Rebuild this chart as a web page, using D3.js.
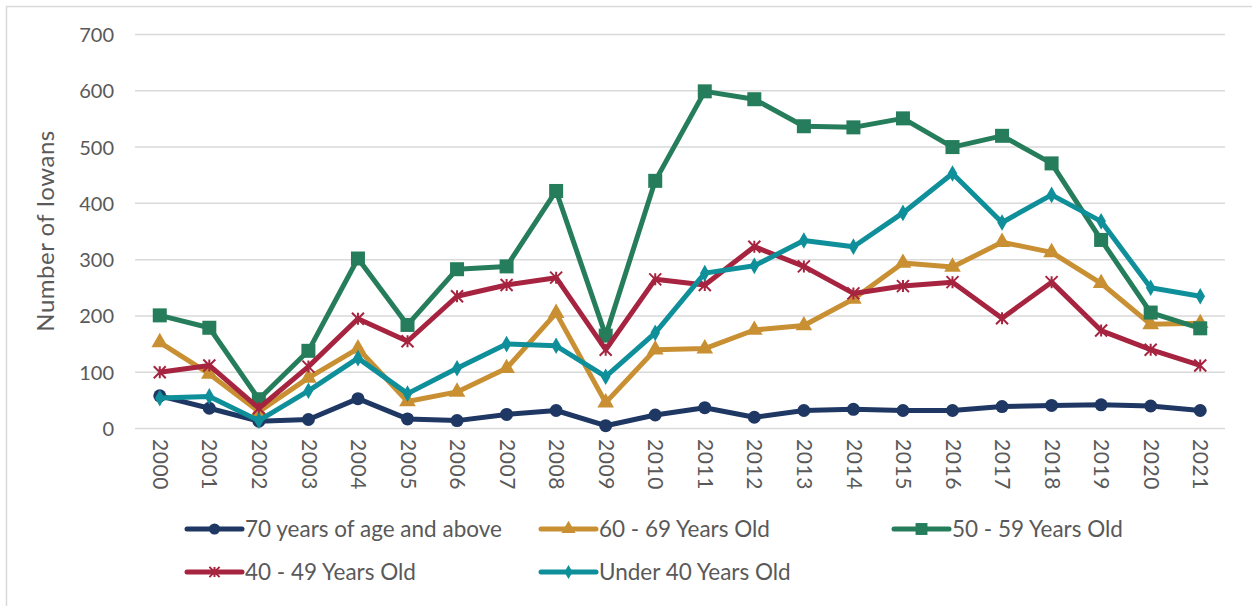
<!DOCTYPE html>
<html><head><meta charset="utf-8">
<script src="https://cdn.jsdelivr.net/npm/d3@7"></script>
<style>body{margin:0;background:#fff;font-family:"Lato","Open Sans",sans-serif;}</style>
</head><body><svg id="c" width="1252" height="606"></svg>
<script>
const years = ["2000","2001","2002","2003","2004","2005","2006","2007","2008","2009","2010","2011","2012","2013","2014","2015","2016","2017","2018","2019","2020","2021"];
const seriesNames = ["70 years of age and above","60 - 69 Years Old","50 - 59 Years Old","40 - 49 Years Old","Under 40 Years Old"];
const age70plus = [58,36,13,16,53,17,14,25,32,5,24,37,20,32,34,32,32,39,41,42,40,32];
const age60s    = [153,97,30,90,142,48,65,107,205,46,140,142,175,183,230,294,287,331,313,258,185,187];
const age50s    = [201,179,52,138,302,184,283,288,422,165,440,599,585,537,535,551,500,520,471,335,206,178];
const age40s    = [100,112,36,110,195,155,235,255,268,140,265,255,323,288,240,253,260,196,260,174,140,112];
const under40   = [54,57,14,67,125,62,107,150,147,92,170,276,289,334,323,383,453,366,415,368,250,235];
const yTicks = [0,100,200,300,400,500,600,700];

const seriesValues = [age70plus, age60s, age50s, age40s, under40];
const colors = ["#1F3763","#C99033","#267D5B","#A6243F","#0F8F9A"];
const markers = ["circle","triangle","square","star","diamond"];
const FONT = "Lato,'Open Sans',sans-serif";
const TXT = "#595959";

const svg = d3.select("#c");
svg.append("rect").attr("x",6.5).attr("y",6.5).attr("width",1260).attr("height",620)
  .attr("fill","none").attr("stroke","#d9d9d9").attr("stroke-width",1.5);

const x0=135, x1=1225;
const x = d3.scalePoint().domain(years).range([x0,x1]).padding(0.5);
const y = d3.scaleLinear().domain([0,700]).range([428.5,34.5]);

// gridlines
svg.append("g").selectAll("line").data(yTicks).join("line")
  .attr("x1",x0).attr("x2",x1).attr("y1",d=>y(d)).attr("y2",d=>y(d))
  .attr("stroke","#d9d9d9").attr("stroke-width",1.5);

// y axis labels
const yAxis = d3.axisLeft(y).tickValues(yTicks).tickSize(0).tickPadding(0);
const yg = svg.append("g").attr("transform","translate(114,0)").call(yAxis);
yg.select(".domain").remove();
yg.selectAll("text").attr("font-size",20).attr("fill",TXT).attr("font-family",FONT).attr("dy","0.35em");

// x axis labels
const xAxis = d3.axisBottom(x).tickSize(0).tickPadding(0);
const xg = svg.append("g").attr("transform","translate(0,439)").call(xAxis);
xg.select(".domain").remove();
xg.selectAll("text").attr("font-size",21).attr("fill",TXT).attr("font-family",FONT)
  .attr("letter-spacing","0.6px")
  .attr("transform","rotate(90)").attr("text-anchor","start").attr("x",0).attr("y",0).attr("dy","0.35em").attr("dx",0);

// y title
svg.append("text").attr("transform","translate(54,231) rotate(-90)").attr("text-anchor","middle")
  .attr("font-size",24).attr("letter-spacing","0.5px").attr("fill",TXT).attr("font-family",FONT).text("Number of Iowans");

function drawMarker(g, type, color, cx, cy, s) {
  s = s||1;
  if (type==="circle") g.append("circle").attr("cx",cx).attr("cy",cy).attr("r",6.5*s).attr("fill",color);
  else if (type==="square") g.append("rect").attr("x",cx-7*s).attr("y",cy-7*s).attr("width",14*s).attr("height",14*s).attr("fill",color);
  else if (type==="triangle") g.append("path").attr("d",d3.symbol(d3.symbolTriangle, 120*s*s)()).attr("transform",`translate(${cx},${cy})`).attr("fill",color);
  else if (type==="diamond") g.append("path").attr("d",d3.symbol(d3.symbolDiamond, 80*s*s)()).attr("transform",`translate(${cx},${cy})`).attr("fill",color);
  else if (type==="star") {
    const r=6*s;
    g.append("path").attr("d",`M${cx-r},${cy-r}L${cx+r},${cy+r}M${cx-r},${cy+r}L${cx+r},${cy-r}M${cx},${cy-r}L${cx},${cy+r}`)
      .attr("stroke",color).attr("stroke-width",2).attr("fill","none");
  }
}

const line = d3.line().x((d,i)=>x(years[i])).y(d=>y(d));
seriesValues.forEach((vals,si)=>{
  const g = svg.append("g");
  g.append("path").datum(vals).attr("d",line).attr("fill","none")
    .attr("stroke",colors[si]).attr("stroke-width",5).attr("stroke-linejoin","round");
  vals.forEach((v,i)=>drawMarker(g, markers[si], colors[si], x(years[i]), y(v)));
});

// legend
const legPos = [[187,529],[541,529],[894,529],[187,572],[541,572]];
seriesNames.forEach((n,i)=>{
  const [lx,ly]=legPos[i];
  const g = svg.append("g");
  g.append("line").attr("x1",lx).attr("x2",lx+55).attr("y1",ly).attr("y2",ly)
    .attr("stroke",colors[i]).attr("stroke-width",5).attr("stroke-linecap","round");
  drawMarker(g, markers[i], colors[i], lx+27.5, ly, 0.85);
  g.append("text").attr("x",lx+58).attr("y",ly).attr("dy","0.35em").attr("font-size",22.5)
    .attr("fill",TXT).attr("font-family",FONT).text(n);
});
</script></body></html>
